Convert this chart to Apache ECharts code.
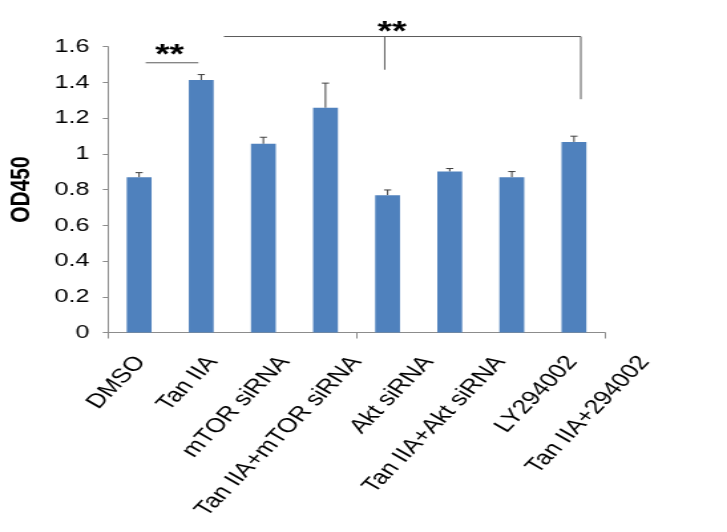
<!DOCTYPE html>
<html><head><meta charset="utf-8">
<script src="https://cdn.jsdelivr.net/npm/echarts@6/dist/echarts.min.js"></script>
<style>
html,body{margin:0;padding:0;background:#fff;overflow:hidden;width:727px;height:532px;}
#chart{width:547px;height:532px;transform:scaleX(1.3291);transform-origin:0 0;}
</style></head><body><div id="chart"></div>
<script>
// ---- data ----
const categories = ['DMSO','Tan IIA','mTOR siRNA','Tan IIA+mTOR siRNA','Akt siRNA','Tan IIA+Akt siRNA','LY294002','Tan IIA+294002'];
const od450 = [0.869, 1.413, 1.056, 1.258, 0.769, 0.901, 0.869, 1.067];
const sem   = [0.026, 0.031, 0.037, 0.138, 0.029, 0.017, 0.032, 0.032];
const yMin = 0, yMax = 1.6, yStep = 0.2;
// significance annotations (category index units / OD450 units)
const sigLabels = ['**', '**'];
const sigSpans  = [[0.106, 0.953], [1.365, 7.111]];
const sigLevels = [1.51, 1.657];
const sigDrops  = [[], [[3.953, 1.471], [7.111, 1.306]]];
const sigLabelAt = [[0.49, 1.583], [4.072, 1.717]];

const FONT = '"Liberation Sans", Arial, sans-serif';
const LABEL_ROT = 53 * Math.PI / 180;
const chart = echarts.init(document.getElementById('chart'), null, {renderer: 'canvas'});

function pt(api, xi, v) {
  const i0 = Math.max(0, Math.min(categories.length - 1, Math.floor(xi)));
  const p = api.coord([i0, v]);
  const bw = api.size([1, 0])[0];
  return [p[0] + (xi - i0) * bw, p[1]];
}

const option = {
  animation: false,
  backgroundColor: '#fff',
  grid: [
    {left: 81.3, right: 91.8, top: 46.7, bottom: 199.5, outerBoundsMode: 'none', containLabel: false},
    {left: 78.7, right: 35.2, top: 46.7, bottom: 199.5, outerBoundsMode: 'none', containLabel: false}
  ],
  xAxis: [
    {type: 'category', data: categories, gridIndex: 0, boundaryGap: true,
     axisLine: {show: true, lineStyle: {color: '#8c8c8c', width: 1}},
     axisTick: {show: true, length: 6, alignWithLabel: false, lineStyle: {color: '#8c8c8c'}},
     axisLabel: {show: false}, splitLine: {show: false}},
    {type: 'category', data: categories, gridIndex: 1, boundaryGap: true, show: false}
  ],
  yAxis: [
    {type: 'value', gridIndex: 0, min: yMin, max: yMax, interval: yStep,
     name: 'OD450', nameLocation: 'middle', nameGap: 55, nameRotate: 90,
     nameTextStyle: {fontSize: 21, fontWeight: 'bold', fontFamily: FONT, color: '#000'},
     axisLine: {show: true, lineStyle: {color: '#8c8c8c', width: 1}},
     axisTick: {show: true, length: 4, lineStyle: {color: '#8c8c8c'}},
     axisLabel: {fontSize: 19, fontFamily: FONT, color: '#000', margin: 14},
     splitLine: {show: false}},
    {type: 'value', gridIndex: 1, min: 0, max: 1, show: false}
  ],
  series: [
    {type: 'bar', xAxisIndex: 0, yAxisIndex: 0, data: od450, barWidth: '40%',
     itemStyle: {color: '#4F81BD'}, silent: true},
    {type: 'custom', xAxisIndex: 0, yAxisIndex: 0, silent: true,
     data: categories.map((c, i) => [i, od450[i], od450[i] + sem[i]]),
     encode: {x: 0, y: [1, 2]},
     renderItem: function (params, api) {
       const x = api.value(0);
       const p1 = api.coord([x, api.value(1)]);
       const p2 = api.coord([x, api.value(2)]);
       const st = {stroke: '#404040', lineWidth: 1};
       return {type: 'group', children: [
         {type: 'line', shape: {x1: p1[0], y1: p1[1], x2: p2[0], y2: p2[1]}, style: st},
         {type: 'line', shape: {x1: p2[0] - 2.7, y1: p2[1], x2: p2[0] + 2.7, y2: p2[1]}, style: st}
       ]};
     }},
    // rotated category labels, placed along the label axis of grid 1
    {type: 'custom', xAxisIndex: 1, yAxisIndex: 1, silent: true, clip: false,
     data: categories.map((c, i) => [i, 0]),
     encode: {x: 0, y: 1},
     renderItem: function (params, api) {
       const p = api.coord([api.value(0), 0]);
       return {type: 'text', x: p[0], y: p[1] + 26, rotation: LABEL_ROT,
         style: {text: categories[params.dataIndex], x: 0, y: 0, align: 'right', verticalAlign: 'middle',
           fontSize: 20, fontFamily: FONT, fill: '#000'}};
     }},
    {type: 'custom', xAxisIndex: 0, yAxisIndex: 0, silent: true, clip: false,
     data: sigLabels.map((s, i) => [0, sigLevels[i]]),
     encode: {x: 0, y: 1},
     renderItem: function (params, api) {
       const b = params.dataIndex;
       const st = {stroke: '#5a5a5a', lineWidth: 1};
       const a = pt(api, sigSpans[b][0], sigLevels[b]);
       const c = pt(api, sigSpans[b][1], sigLevels[b]);
       const children = [{type: 'line', shape: {x1: a[0], y1: a[1], x2: c[0], y2: c[1]}, style: st}];
       sigDrops[b].forEach(d => {
         const top = pt(api, d[0], sigLevels[b]);
         const bot = pt(api, d[0], d[1]);
         children.push({type: 'line', shape: {x1: top[0], y1: top[1], x2: bot[0], y2: bot[1]}, style: st});
       });
       const lp = pt(api, sigLabelAt[b][0], sigLabelAt[b][1]);
       children.push({type: 'text', style: {text: sigLabels[b], x: lp[0], y: lp[1] + 6,
         fontSize: 28, fontWeight: 'bold', fontFamily: FONT, fill: '#000',
         align: 'center', verticalAlign: 'middle'}});
       return {type: 'group', children: children};
     }}
  ]
};
chart.setOption(option);
</script></body></html>
